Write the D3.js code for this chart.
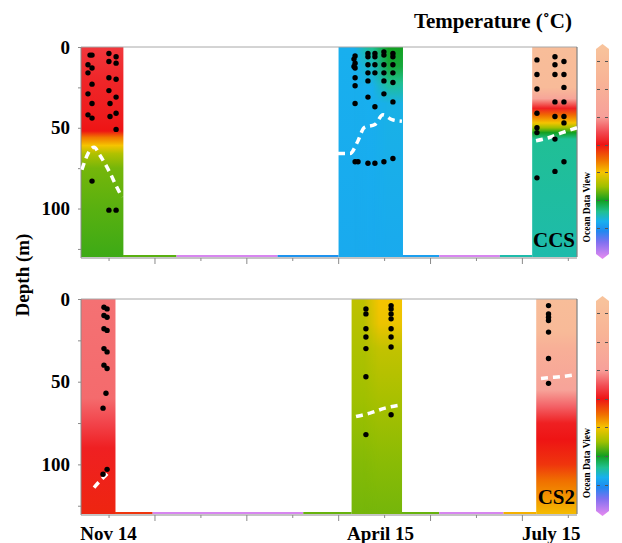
<!DOCTYPE html>
<html>
<head>
<meta charset="utf-8">
<title>Temperature sections CCS / CS2</title>
<script src="https://d3js.org/d3.v7.min.js"></script>
<style>
  body { margin: 0; background: #fff; }
  text { font-family: "Liberation Serif", "Times New Roman", serif; font-weight: bold; }
  .axis path, .axis line { stroke: #8a8a8a; }
</style>
</head>
<body>
<svg width="622" height="543"></svg>
<script>
// x positions are days since 1 Nov 2014, depths in m, temperatures in deg C
var dayLabels = ["Nov 14", "April 15", "July 15"];
var dayLabelPos = [15, 163, 256];
var depthTicks = [0, 25, 50, 75, 100, 125];
var cbTicks = [24, 25, 26, 27, 28, 29, 30];

// Ocean Data View palette (temperature -> colour)
var paletteT = [30.6, 29.3, 28.0, 27.45, 27.0, 26.45, 26.0, 25.5, 25.0, 24.6, 24.25, 23.9, 23.5, 22.95];
var paletteC = ["#f8c49c", "#f8b496", "#f7a09a", "#f24a52", "#ee1414", "#f07000", "#f5c400",
                "#a0c000", "#12a020", "#20c090", "#18b0ee", "#2088f0", "#8070f0", "#e088f0"];

// CCS (upper panel)
var ccsStrips = [
  { from: 0, to: 22.8, depth: [0, 20, 45, 52, 56, 61, 66, 75, 100, 130],
    temp: [27.3, 27.15, 27.05, 27.0, 26.4, 26.0, 25.6, 25.35, 25.25, 25.15] },
  { from: 140.2, to: 153, depth: [0, 130], temp: [24.24, 24.2] },
  { from: 153, to: 163, depth: [0, 12, 25, 130], temp: [24.6, 24.4, 24.24, 24.2] },
  { from: 163, to: 175, depth: [0, 12, 22, 35, 130], temp: [25.0, 24.9, 24.6, 24.28, 24.2] },
  { from: 245.6, to: 269.6, depth: [0, 25, 32, 38, 42, 47, 50, 53, 57, 130],
    temp: [30.0, 29.9, 28.3, 27.1, 26.5, 26.0, 25.5, 25.0, 24.58, 24.5] }
];
var ccsFloor = [[22.8, 52, 25.25], [52, 107, 23.0], [107, 140.2, 24.0], [175, 195, 24.1], [195, 228, 23.0], [228, 245.6, 24.5]];
var ccsDots = [
  [4.9, 5], [6.0, 5], [3.8, 11], [6.0, 13], [3.8, 16], [6.0, 23], [3.8, 29], [6.0, 35], [3.8, 42], [6.0, 44], [6.0, 83],
  [15.2, 4], [19.1, 6], [15.2, 9], [19.1, 10], [15.2, 19], [19.1, 20], [15.2, 27], [19.1, 31], [15.8, 35], [19.1, 41], [15.8, 43], [19.1, 51], [15.2, 101], [19.1, 101],
  [149.2, 5.6], [148.6, 7.5], [149.2, 10], [148.6, 12], [149.2, 13], [149.2, 19], [149.2, 24], [149.2, 35], [149.2, 71], [150.8, 71],
  [156.2, 4], [156.2, 6], [156.2, 11], [156.2, 16], [156.2, 21], [156.2, 31], [156.2, 72],
  [160.0, 4], [160.0, 6], [160.0, 11], [160.0, 16], [160.0, 37], [160.0, 72],
  [164.9, 3], [164.9, 5], [164.9, 11], [164.9, 16], [164.9, 21], [164.9, 29], [164.9, 71],
  [169.8, 4], [169.8, 6], [169.8, 11], [169.8, 16], [169.8, 22], [169.8, 34], [169.8, 69],
  [248.2, 8], [248.2, 17], [248.2, 26], [248.2, 41], [248.2, 50], [248.2, 53], [248.2, 81],
  [258.0, 6], [258.0, 11], [258.0, 17], [258.0, 34], [258.0, 43], [258.0, 57], [258.0, 77],
  [262.9, 9], [262.9, 17], [262.9, 25], [262.9, 34], [262.9, 43], [262.9, 47], [262.9, 71]
];
var ccsMld = [
  [[0.5, 76], [3.8, 66], [7.1, 62], [10.3, 67], [15.8, 78], [19.6, 87], [22.3, 93]],
  [[139.9, 66], [146.4, 66], [150.8, 58], [154.1, 50], [160.0, 48], [164.4, 42], [169.3, 45], [174.7, 46]],
  [[247.7, 58], [255, 56], [262, 53], [270, 50]]
];

// CS2 (lower panel)
var cs2Strips = [
  { from: 0, to: 18.5, depth: [0, 60, 75, 90, 130], temp: [27.7, 27.66, 27.4, 27.1, 26.9] },
  { from: 147.3, to: 158, depth: [0, 30, 60, 100, 130], temp: [25.68, 25.58, 25.5, 25.4, 25.35] },
  { from: 158, to: 174.5, depth: [0, 15, 30, 60, 100, 130], temp: [26.0, 25.95, 25.7, 25.55, 25.42, 25.35] },
  { from: 247.8, to: 269.6, depth: [0, 20, 30, 45, 55, 65, 75, 85, 100, 110, 125, 130],
    temp: [30.0, 29.8, 29.0, 28.5, 28.2, 27.6, 27.1, 27.0, 26.8, 26.45, 26.15, 26.05] }
];
var cs2Floor = [[18.5, 39, 26.8], [39, 121, 23.0], [121, 147.3, 25.3], [174.5, 195, 25.3], [195, 230, 23.0], [230, 247.8, 26.1]];
var cs2Dots = [
  [12.5, 5], [14.2, 6], [12.5, 10], [14.2, 11], [12.5, 18], [14.2, 19], [12.5, 30], [14.2, 32], [12.5, 40], [14.2, 42], [13.6, 57], [12.0, 66], [12.0, 106], [14.2, 103],
  [155.1, 6], [155.1, 9], [155.1, 18], [155.1, 23], [155.1, 30], [155.1, 47], [155.1, 82],
  [168.8, 4], [168.8, 6], [168.8, 9], [168.8, 12], [168.8, 18], [168.8, 23], [168.8, 29], [168.8, 70],
  [254.5, 4], [254.5, 9], [254.5, 11], [254.5, 13], [254.5, 20], [254.5, 36], [254.5, 51]
];
var cs2Mld = [
  [[7.1, 114], [10.3, 110], [13.1, 107], [15.8, 104]],
  [[149.7, 71], [157.3, 69], [165.5, 66], [174.7, 64]],
  [[250.4, 48], [255.3, 47.5], [260.8, 47], [267.8, 46]]
];

var svg = d3.select("svg");
var defs = svg.append("defs");
var color = d3.scaleLinear().domain(paletteT).range(paletteC).interpolate(d3.interpolateRgb).clamp(true);
var x = d3.scaleLinear().domain([0, 270]).range([81, 577]);
var blend = 8; // px over which neighbouring strips are cross-faded

var panels = [
  { name: "CCS", strips: ccsStrips, floor: ccsFloor, dots: ccsDots, mld: ccsMld, top: 47, bottom: 257 },
  { name: "CS2", strips: cs2Strips, floor: cs2Floor, dots: cs2Dots, mld: cs2Mld, top: 299, bottom: 514 }
];

panels.forEach(function (p, pi) {
  var y = d3.scaleLinear().domain([0, 130]).range([p.top, p.bottom]);
  var g = svg.append("g");

  // interpolated columns; a strip touching the previous one fades in over it
  p.strips.forEach(function (s, si) {
    var id = "grad" + pi + "_" + si;
    var grad = defs.append("linearGradient").attr("id", id)
      .attr("gradientUnits", "userSpaceOnUse")
      .attr("x1", 0).attr("x2", 0).attr("y1", y(0)).attr("y2", y(130));
    s.depth.forEach(function (d, i) {
      grad.append("stop").attr("offset", d / 130).attr("stop-color", color(s.temp[i]));
    });
    var x0 = x(s.from), x1 = x(s.to);
    var prev = p.strips[si - 1], next = p.strips[si + 1];
    if (next && next.from === s.to) x1 += blend;
    var rect = g.append("rect");
    if (prev && prev.to === s.from) {
      var fid = "fade" + pi + "_" + si;
      var fg = defs.append("linearGradient").attr("id", fid)
        .attr("gradientUnits", "userSpaceOnUse")
        .attr("x1", x0 - blend).attr("x2", x0 + blend).attr("y1", 0).attr("y2", 0);
      fg.append("stop").attr("offset", 0).attr("stop-color", "#fff").attr("stop-opacity", 0);
      fg.append("stop").attr("offset", 1).attr("stop-color", "#fff").attr("stop-opacity", 1);
      var mask = defs.append("mask").attr("id", "m" + fid).attr("maskUnits", "userSpaceOnUse")
        .attr("x", 0).attr("y", 0).attr("width", 622).attr("height", 543);
      mask.append("rect").attr("x", x0 - blend).attr("width", x1 - x0 + blend + 1)
        .attr("y", y(0)).attr("height", y(130) - y(0)).attr("fill", "url(#" + fid + ")");
      x0 = x0 - blend;
      rect.attr("mask", "url(#m" + fid + ")");
    }
    rect.attr("x", x0).attr("width", x1 - x0 + 0.5)
      .attr("y", y(0)).attr("height", y(130) - y(0))
      .attr("fill", "url(#" + id + ")");
  });

  // bottom row of the grid
  g.selectAll(".floor").data(p.floor).enter().append("rect")
    .attr("x", function (d) { return x(d[0]); })
    .attr("width", function (d) { return x(d[1]) - x(d[0]); })
    .attr("y", y(130) - 2).attr("height", 2)
    .attr("fill", function (d) { return color(d[2]); });

  // frame
  g.append("line").attr("x1", x(0)).attr("x2", x(270)).attr("y1", y(0)).attr("y2", y(0))
    .attr("stroke", "#a8a8a8").attr("stroke-width", 1);
  g.append("line").attr("x1", x(270)).attr("x2", x(270)).attr("y1", y(0)).attr("y2", y(130))
    .attr("stroke", "#666").attr("stroke-width", 1);

  var yAxis = g.append("g").attr("class", "axis")
    .attr("transform", "translate(" + x(0) + ",0)")
    .call(d3.axisLeft(y).tickValues(depthTicks).tickSize(3).tickPadding(8)
      .tickFormat(function (d) { return d % 50 === 0 ? d : ""; }));
  yAxis.selectAll("text").attr("font-size", 19).attr("fill", "#000")
    .attr("font-family", "Liberation Serif, Times New Roman, serif").attr("font-weight", "bold");
  yAxis.select(".domain").attr("d", "M0," + y(0) + "V" + (y(130) + 1));

  var xAxis = g.append("g").attr("class", "axis")
    .attr("transform", "translate(0," + (y(130) + 1) + ")")
    .call(d3.axisBottom(x).tickValues(d3.range(15, 270, 25)).tickSize(5).tickFormat(""));
  xAxis.selectAll(".tick line").attr("y2", function (d) { return (d - 15) % 50 === 0 ? 3 : 6; });
  xAxis.select(".domain").attr("d", "M" + x(0) + ",0H" + x(270));

  // mixed layer depth
  var line = d3.line().x(function (d) { return x(d[0]); }).y(function (d) { return y(d[1]); })
    .curve(d3.curveMonotoneX);
  g.selectAll(".mld").data(p.mld).enter().append("path")
    .attr("d", line).attr("fill", "none").attr("stroke", "#fff")
    .attr("stroke-width", 3.5).attr("stroke-dasharray", "7,5");

  // samples
  g.selectAll(".dot").data(p.dots).enter().append("circle")
    .attr("cx", function (d) { return x(d[0]); })
    .attr("cy", function (d) { return y(d[1]); })
    .attr("r", 2.7).attr("fill", "#000");

  g.append("text").attr("x", x(270) - 2).attr("y", y(130) - 10)
    .attr("text-anchor", "end").attr("font-size", 21).text(p.name);

  // colour bar
  var cb = d3.scaleLinear().domain([22.9, 30.6]).range([p.bottom + 2, p.top - 3]);
  var cid = "cb" + pi;
  var cg = defs.append("linearGradient").attr("id", cid)
    .attr("gradientUnits", "userSpaceOnUse")
    .attr("x1", 0).attr("x2", 0).attr("y1", cb(30.6)).attr("y2", cb(22.9));
  paletteT.forEach(function (t, i) {
    cg.append("stop").attr("offset", (30.6 - t) / 7.7).attr("stop-color", paletteC[i]);
  });
  var bx = 596, bw = 13, top = cb(30.6), bot = cb(22.9);
  svg.append("path")
    .attr("d", "M" + bx + "," + (top + 5) + "L" + (bx + bw / 2) + "," + top + "L" + (bx + bw) + "," + (top + 5) +
      "V" + (bot - 5) + "L" + (bx + bw / 2) + "," + bot + "L" + bx + "," + (bot - 5) + "Z")
    .attr("fill", "url(#" + cid + ")");
  svg.selectAll(".cbt" + pi).data(cbTicks).enter().append("path")
    .attr("d", function (d) {
      var yy = Math.round(cb(d)) + 0.5;
      return "M" + (bx + 1) + "," + yy + "h3M" + (bx + bw - 4) + "," + yy + "h3";
    })
    .attr("stroke", "#555").attr("stroke-width", 1);
  svg.append("text")
    .attr("transform", "translate(" + (bx - 6) + "," + (cb(24.75)) + ") rotate(-90)")
    .attr("text-anchor", "middle").attr("font-size", 9.5).text("Ocean Data View");
});

svg.selectAll(".mlab").data(dayLabels).enter().append("text")
  .attr("x", function (d, i) { return x(dayLabelPos[i]); })
  .attr("y", 540).attr("text-anchor", "middle").attr("font-size", 19)
  .text(function (d) { return d; });

svg.append("text").attr("transform", "translate(29,275) rotate(-90)")
  .attr("text-anchor", "middle").attr("font-size", 19).text("Depth (m)");

svg.append("text").attr("x", 572).attr("y", 28).attr("text-anchor", "end")
  .attr("font-size", 21).text("Temperature (\u02DAC)");
</script>
</body>
</html>
